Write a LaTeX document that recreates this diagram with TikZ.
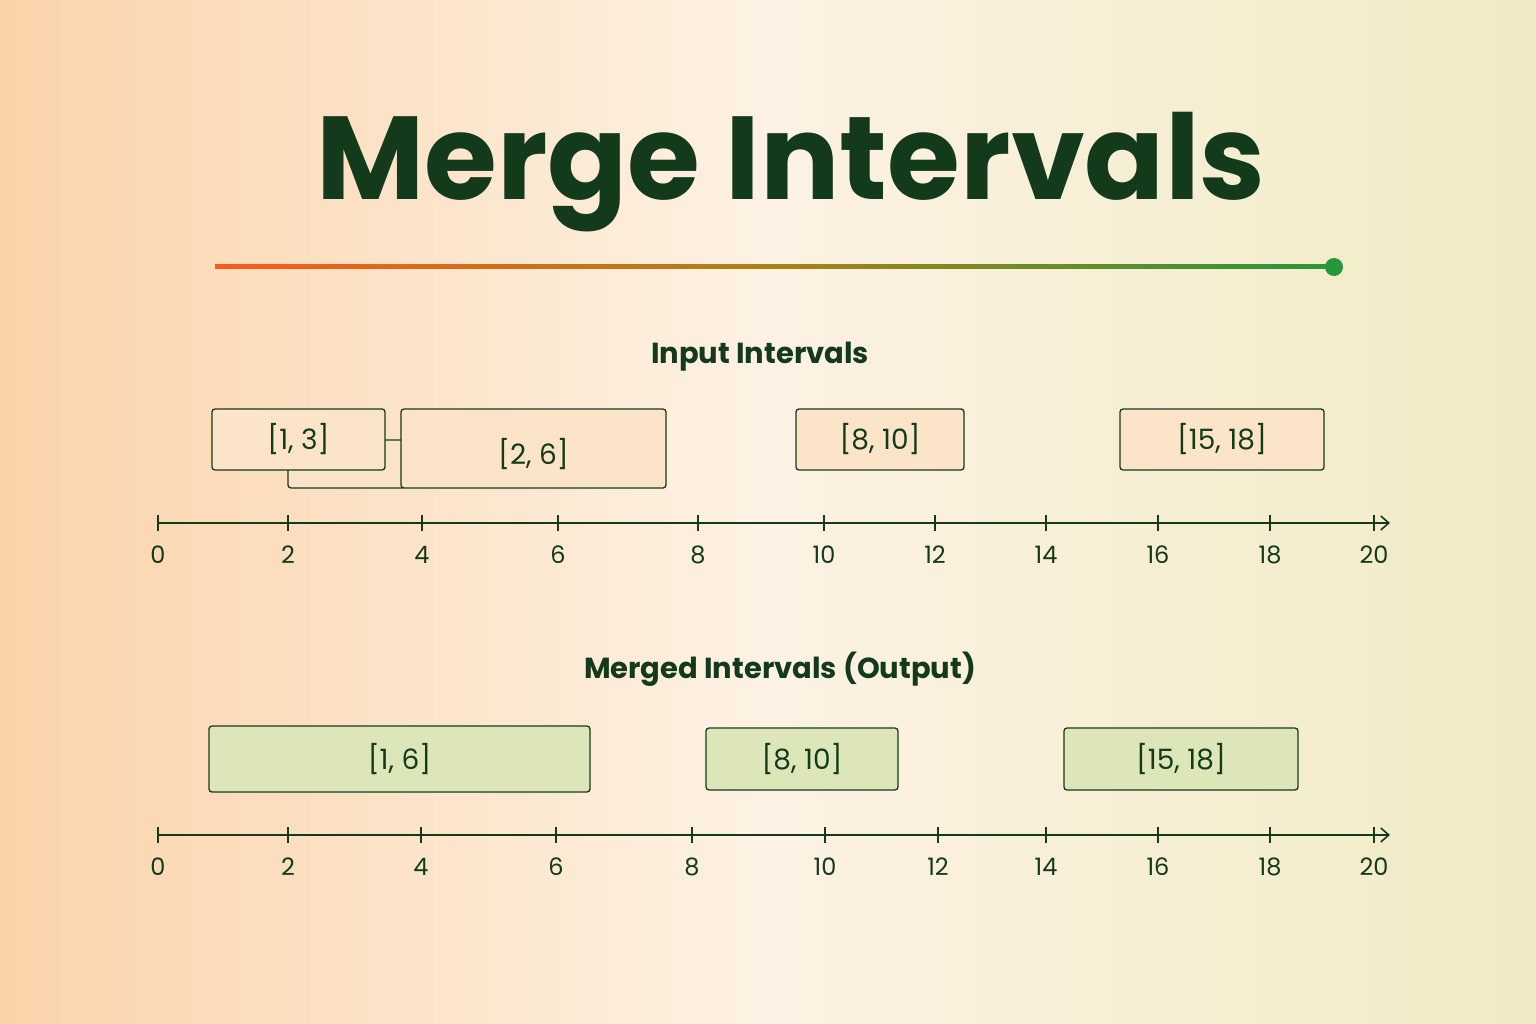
\documentclass[tikz,border=0pt]{standalone}
\usepackage{fontspec}
\setmainfont{Poppins}
\usetikzlibrary{arrows.meta}
\definecolor{dk}{HTML}{143A1C}
\definecolor{inf}{HTML}{FCE4C8}
\definecolor{outf}{HTML}{DDE6B8}
\definecolor{bgl}{HTML}{FBD3AA}
\definecolor{bgm}{HTML}{FDF2E4}
\definecolor{bgr}{HTML}{F0EBC4}
\definecolor{lor}{HTML}{FA5A1E}
\definecolor{lmid}{HTML}{AA8214}
\definecolor{lgr}{HTML}{28963C}
\tikzset{
 ibox/.style={draw=dk,line width=1.3pt,fill=inf,rounded corners=3pt},
 obox/.style={draw=dk,line width=1.3pt,fill=outf,rounded corners=3pt},
 lbl/.style={text=dk,font=\fontsize{28}{30}\selectfont},
 ax/.style={draw=dk,line width=1.6pt,-{Straight Barb[length=8pt,width=14pt]}},
 tk/.style={draw=dk,line width=1.6pt},
 head/.style={text=dk,font=\bfseries\fontsize{29}{32}\selectfont}
}
\begin{document}
\begin{tikzpicture}[x=1pt,y=-1pt]
\useasboundingbox (0,0) rectangle (1536,1024);
\shade[left color=bgl, right color=bgr, middle color=bgm] (0,0) rectangle (1536,1024);
\node[text=dk,font=\bfseries\fontsize{118}{124}\selectfont] (title) at (791,172) {Merge Intervals};
\shade[left color=lor, right color=lgr, middle color=lmid] (215,265) rectangle (1334,269);
\fill[lgr] (1334,267) circle (9);
\coordinate (dot) at (1334,267);
\node[head] (h1) at (760,357) {Input Intervals};
\draw[ibox] (288,440) rectangle (405,488);
\draw[ibox] (212,409) rectangle node[lbl] (a) {[1, 3]} (385,470);
\draw[ibox] (401,409) rectangle node[lbl,yshift=-6] (b) {[2, 6]} (666,488);
\draw[ibox] (796,409) rectangle node[lbl] (c) {[8, 10]} (964,470);
\draw[ibox] (1120,409) rectangle node[lbl] (d) {[15, 18]} (1324,470);
\coordinate (s1) at (158,523); \coordinate (e1) at (1390,523);
\draw[ax] (s1) -- (e1);
\foreach \v/\x in {0/158,2/288,4/422,6/558,8/698,10/824,12/935,14/1046,16/1158,18/1270,20/1374}{
 \draw[tk] (\x,515) -- (\x,531);
 \node[lbl,font=\fontsize{24}{26}\selectfont] at (\x,555) {\v};}
\node[head] (h2) at (780,669) {Merged Intervals (Output)};
\draw[obox] (209,726) rectangle node[lbl] (m1) {[1, 6]} (590,792);
\draw[obox] (706,728) rectangle node[lbl] (m2) {[8, 10]} (898,790);
\draw[obox] (1064,728) rectangle node[lbl] (m3) {[15, 18]} (1298,790);
\coordinate (s2) at (158,835); \coordinate (e2) at (1390,835);
\draw[ax] (s2) -- (e2);
\foreach \v/\x in {0/158,2/288,4/421,6/556,8/692,10/825,12/938,14/1046,16/1158,18/1270,20/1374}{
 \draw[tk] (\x,827) -- (\x,843);
 \node[lbl,font=\fontsize{24}{26}\selectfont] at (\x,867) {\v};}
\end{tikzpicture}
\end{document}
